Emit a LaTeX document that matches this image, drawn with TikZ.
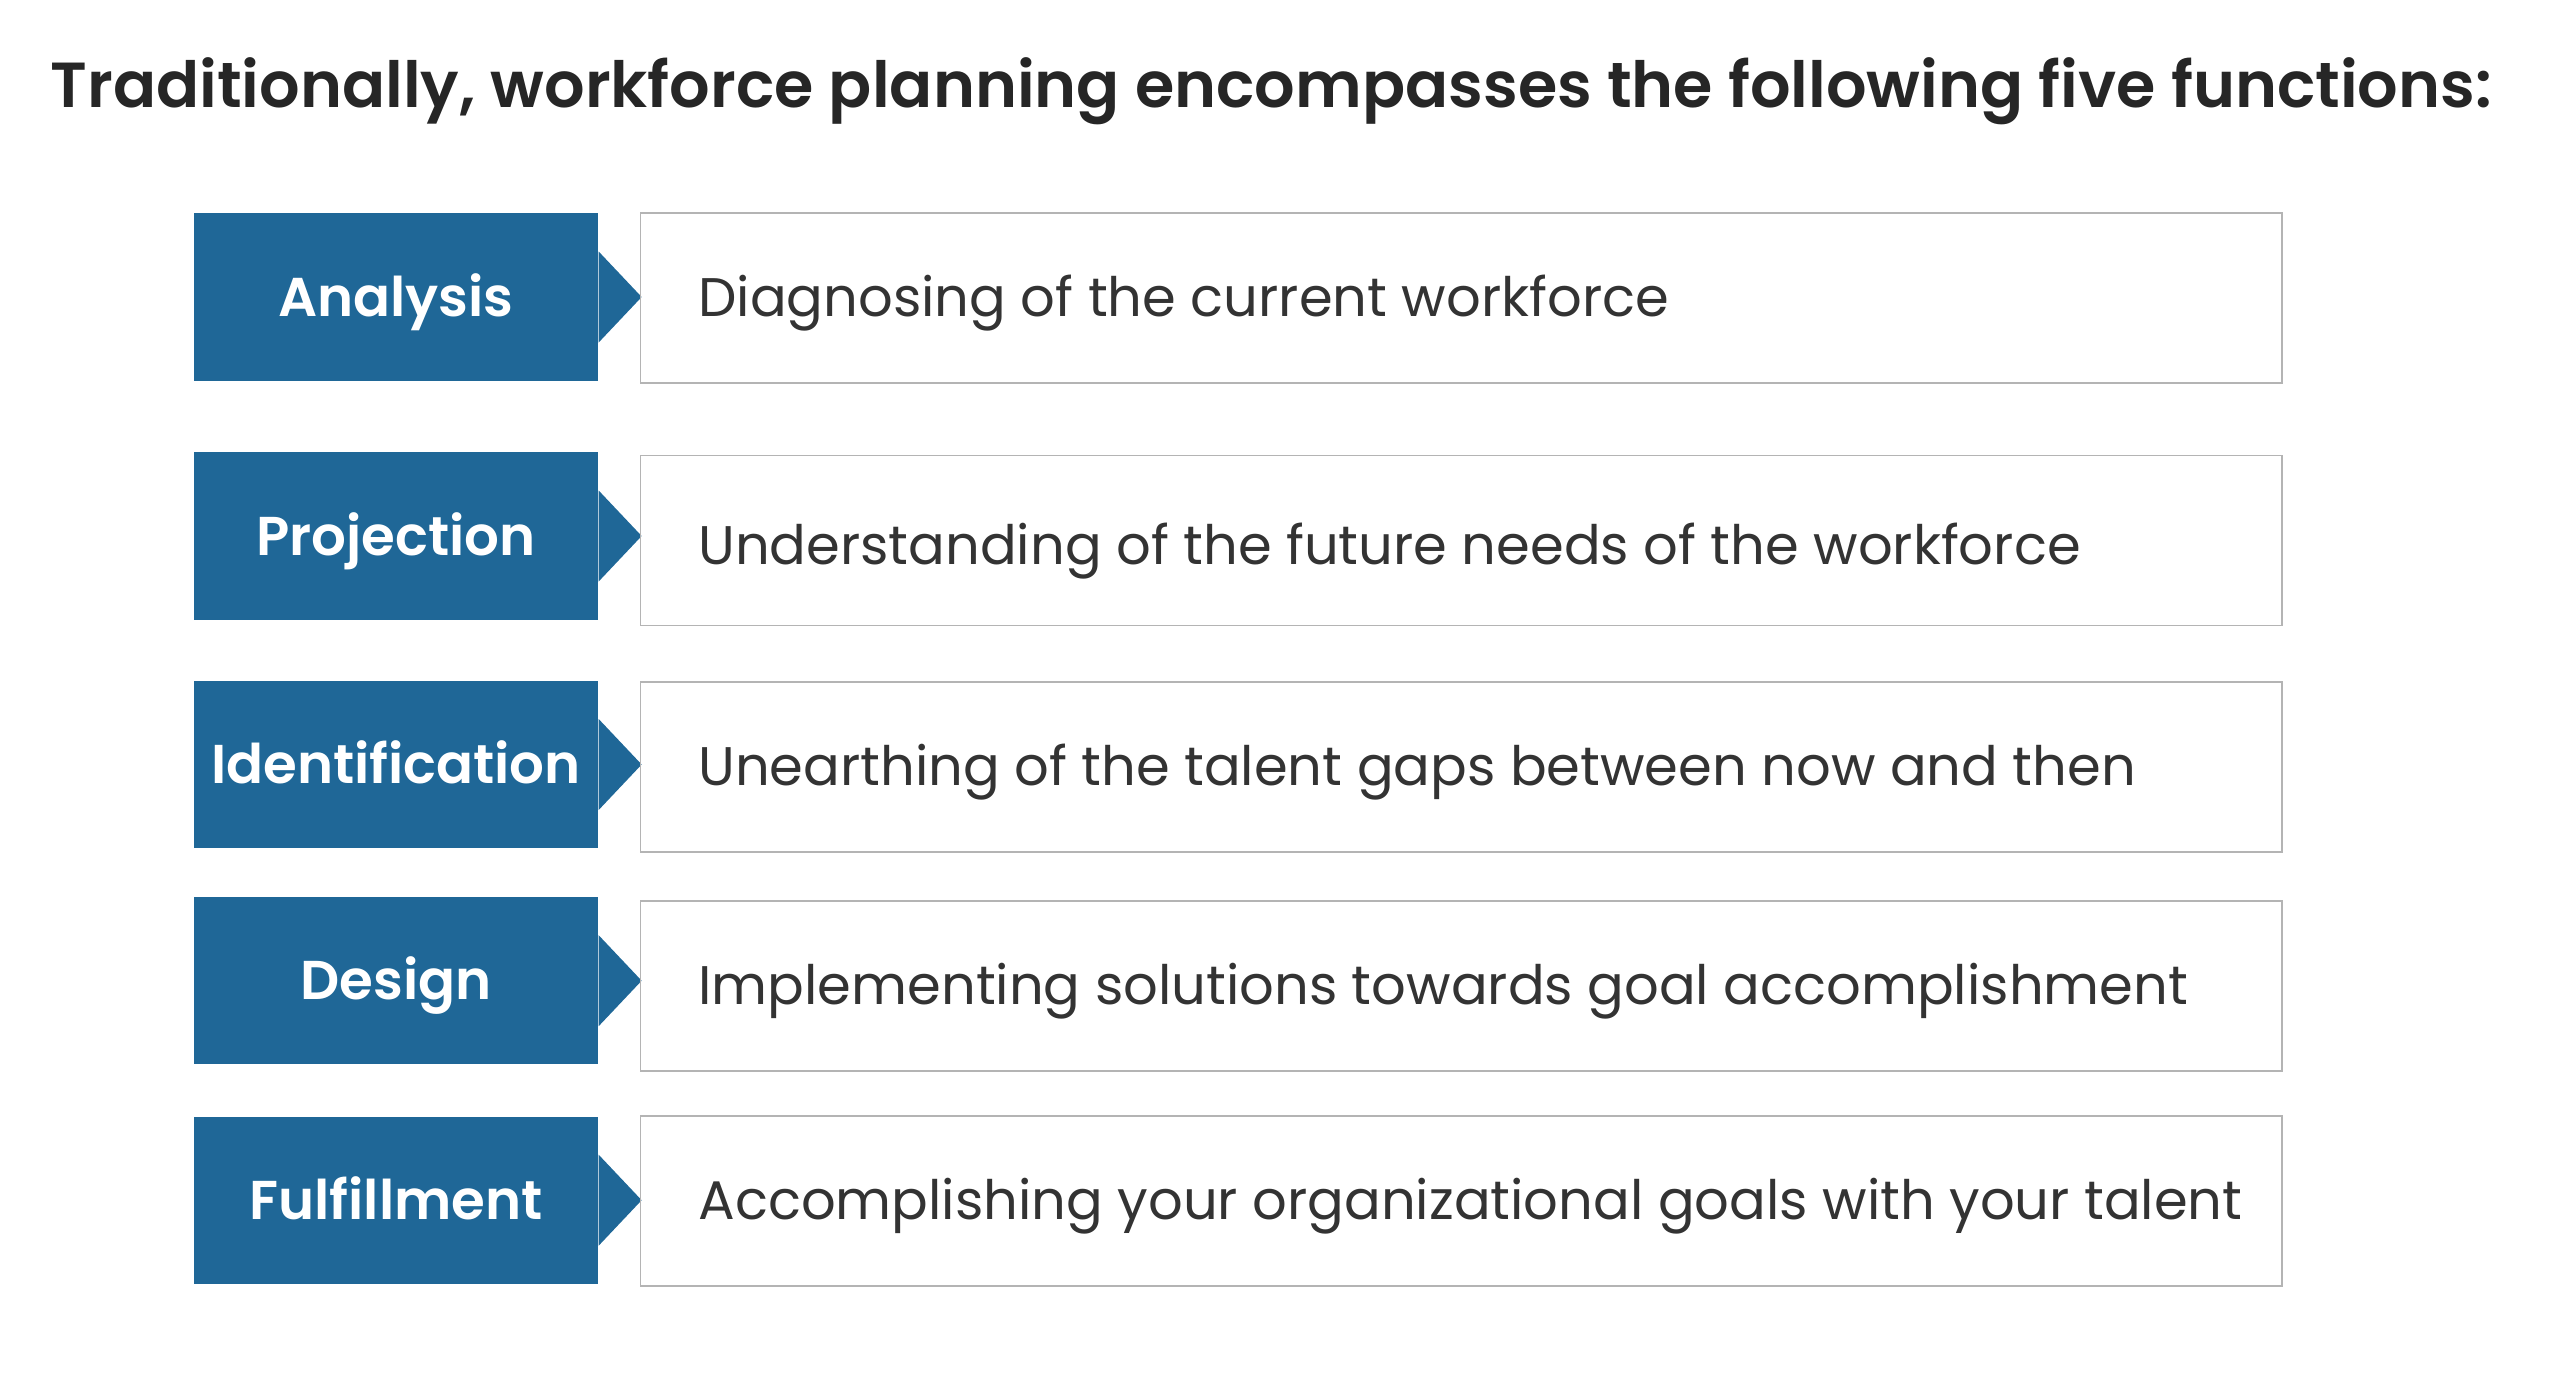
\documentclass[tikz,border=0pt]{standalone}
\usepackage{fontspec}
\setmainfont{Poppins}[BoldFont={Poppins SemiBold}]
\usepackage{xcolor}
\usetikzlibrary{positioning}

\definecolor{funcblue}{HTML}{1F6797}
\definecolor{desctext}{HTML}{333333}
\definecolor{titletext}{HTML}{262626}
\definecolor{boxline}{HTML}{B4B4B4}

\tikzset{
    heading/.style={text=titletext, inner sep=0pt, font=\fontsize{19.1}{23}\selectfont\bfseries},
    func/.style={fill=funcblue, text=white, inner sep=0pt, minimum width=121.2pt, minimum height=50.2pt,
        text height=11.4pt, text depth=0pt, font=\fontsize{16.4}{19}\selectfont\bfseries},
    functip/.style={fill=funcblue},
    descbox/.style={draw=boxline, line width=0.5pt, inner sep=0pt, minimum width=492.4pt, minimum height=51pt},
    desc/.style={text=desctext, inner sep=0pt, text height=11.3pt, text depth=0pt,
        font=\fontsize{16.3}{19}\selectfont}
}

\begin{document}
\begin{tikzpicture}[x=0.3pt, y=-0.3pt]
                        \useasboundingbox (0, 0) rectangle (2560, 1378);

                        \node[heading, anchor=base west] (title) at (50, 107) {Traditionally, workforce planning encompasses the following five functions:};

                        % function tags
                        \node[func] (analysis) at (396, 297) {Analysis};
                        \node[func] (projection) at (396, 536) {Projection};
                        \node[func] (identification) at (396, 764.5) {Identification};
                        \node[func] (design) at (396, 980.7) {Design};
                        \node[func] (fulfillment) at (396, 1200.2) {Fulfillment};

                        \fill[functip]
                        (analysis.east) ++(0, -45.5) -- ++(43, 45.5) -- ++(-43, 45.5) -- cycle
                        (projection.east) ++(0, -45.5) -- ++(43, 45.5) -- ++(-43, 45.5) -- cycle
                        (identification.east) ++(0, -45.5) -- ++(43, 45.5) -- ++(-43, 45.5) -- cycle
                        (design.east) ++(0, -45.5) -- ++(43, 45.5) -- ++(-43, 45.5) -- cycle
                        (fulfillment.east) ++(0, -45.5) -- ++(43, 45.5) -- ++(-43, 45.5) -- cycle;

                        % description boxes
                        \node[descbox] (analysisbox) at (1461.3, 298) {};
                        \node[descbox] (projectionbox) at (1461.3, 540.5) {};
                        \node[descbox] (identificationbox) at (1461.3, 767) {};
                        \node[descbox] (designbox) at (1461.3, 986) {};
                        \node[descbox] (fulfillmentbox) at (1461.3, 1201) {};

                        \node[desc, right=17.4pt of analysisbox.west] (analysisdesc) {Diagnosing of the current workforce};
                        \node[desc, right=17.4pt of projectionbox.west, yshift=-1.6pt] (projectiondesc) {Understanding of the future needs of the workforce};
                        \node[desc, right=17.4pt of identificationbox.west] (identificationdesc) {Unearthing of the talent gaps between now and then};
                        \node[desc, right=17.4pt of designbox.west] (designdesc) {Implementing solutions towards goal accomplishment};
                        \node[desc, right=17.4pt of fulfillmentbox.west] (fulfillmentdesc) {Accomplishing your organizational goals with your talent};
                    \end{tikzpicture}
\end{document}
